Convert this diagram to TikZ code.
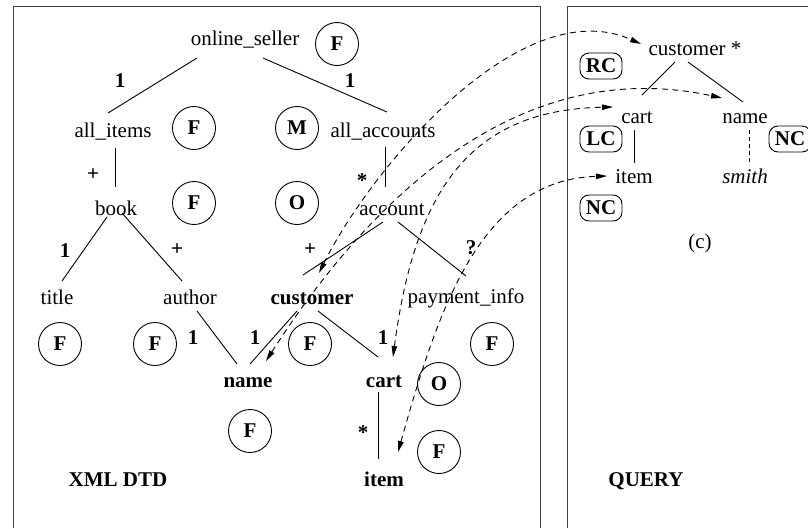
\documentclass[tikz,border=0pt]{standalone}
\usepackage{fontspec}
\setmainfont{Liberation Serif}
\usetikzlibrary{arrows.meta,calc}
\begin{document}
\begin{tikzpicture}[x=1pt,y=-1pt,
  lbl/.style={inner sep=0pt, anchor=base, text height=15pt, text depth=5pt, font=\fontsize{21}{25}\selectfont},
  blbl/.style={lbl, font=\fontsize{21}{25}\selectfont\bfseries},
  card/.style={inner sep=0pt, anchor=base, font=\fontsize{21}{25}\selectfont\bfseries},
  circ/.style={circle, draw, line width=0.9pt, minimum size=43pt, inner sep=0pt, font=\fontsize{21}{25}\selectfont\bfseries},
  rbox/.style={draw, rounded corners=9pt, line width=0.9pt, minimum width=42pt, minimum height=26pt, inner sep=0pt, font=\fontsize{21}{25}\selectfont\bfseries},
  tline/.style={line width=0.9pt},
  link/.style={line width=0.9pt, dash pattern=on 6pt off 4.5pt, {Triangle[length=11pt,width=5.5pt]}-{Triangle[length=11pt,width=5.5pt]}},
  panel/.style={line width=1pt, black!75}
]
\useasboundingbox (0,0) rectangle (808,528);
% panels
\draw[panel] (13,528) -- (13,6) -- (540,6) -- (540,528);
\draw[panel] (567,528) -- (567,6) -- (808,6);

% DTD tree nodes
\node[lbl]  (os) at (245,45)  {online\_seller};
\node[lbl]  (ai) at (113,137) {all\_items};
\node[lbl]  (aa) at (383,137) {all\_accounts};
\node[lbl]  (bk) at (116,215) {book};
\node[lbl]  (ac) at (392,215) {account};
\node[lbl]  (ti) at (57,304)  {title};
\node[lbl]  (au) at (190,304) {author};
\node[blbl] (cu) at (312,304) {customer};
\node[lbl]  (pi) at (466,303) {payment\_info};
\node[blbl] (nm) at (248,387) {name};
\node[blbl] (ct) at (384,387) {cart};
\node[blbl] (it) at (384,486) {item};
\node[blbl] (xd) at (118,486) {XML DTD};
\node[blbl] (qu) at (646,486) {QUERY};

% query nodes
\node[lbl] (cs) at (695,55)  {customer *};
\node[lbl] (qc) at (637,123) {cart};
\node[lbl] (qn) at (745,123) {name};
\node[lbl] (qi) at (634,183) {item};
\node[lbl] (sm) at (745,183) {\itshape smith};
\node[lbl] (cc) at (700,248) {(c)};

% cardinality labels
\node[card] (k1) at (120,87)  {1};
\node[card] (k2) at (350,87)  {1};
\node[card] (k3) at (93,180)  {+};
\node[card] (k4) at (362,187) {*};
\node[card] (k5) at (65,257)  {1};
\node[card] (k6) at (177,255) {+};
\node[card] (k7) at (310,255) {+};
\node[card] (k8) at (471,254) {?};
\node[card] (k9) at (193,344) {1};
\node[card] (k10) at (255,344) {1};
\node[card] (k11) at (383,344) {1};
\node[card] (k12) at (363,439) {*};

% circled marks
\node[circ] (m1) at (337,44)  {F};
\node[circ] (m2) at (194,128) {F};
\node[circ] (m3) at (297,128) {M};
\node[circ] (m4) at (194,203) {F};
\node[circ] (m5) at (297,203) {O};
\node[circ] (m6) at (60,344)  {F};
\node[circ] (m7) at (155,344) {F};
\node[circ] (m8) at (310,344) {F};
\node[circ] (m9) at (492,344) {F};
\node[circ] (m10) at (250,431) {F};
\node[circ] (m11) at (439,384) {O};
\node[circ] (m12) at (439,452) {F};

% rounded marks
\node[rbox] (rc) at (601,66)  {RC};
\node[rbox] (lc) at (601,139) {LC};
\node[rbox] (nc1) at (601,208) {NC};
\node[rbox] (nc2) at (790,139) {NC};

% tree edges
\draw[tline] ([shift={(-48,13)}]os.base) -- ([shift={(-5,-24)}]ai.base);
\draw[tline] ([shift={(18,13)}]os.base) -- ([shift={(4,-25)}]aa.base);
\draw[tline] ([shift={(2,11)}]ai.base) -- ([shift={(-1,-28)}]bk.base);
\draw[tline] ([shift={(2,10)}]aa.base) -- ([shift={(-7,-28)}]ac.base);
\draw[tline] ([shift={(-9,2)}]bk.base) -- ([shift={(5,-23)}]ti.base);
\draw[tline] ([shift={(6,-2)}]bk.base) -- ([shift={(-8,-23)}]au.base);
\draw[tline] ([shift={(-9,7)}]ac.base) -- ([shift={(-9,-29)}]cu.base);
\draw[tline] ([shift={(6,7)}]ac.base) -- ([shift={(0,-27)}]pi.base);
\draw[tline] ([shift={(7,7)}]au.base) -- ([shift={(-11,-23)}]nm.base);
\draw[tline] ([shift={(-15,7)}]cu.base) -- ([shift={(2,-23)}]nm.base);
\draw[tline] ([shift={(6,7)}]cu.base) -- ([shift={(-6,-30)}]ct.base);
\draw[tline] ([shift={(-6,5)}]ct.base) -- ([shift={(-6,-27)}]it.base);
\draw[tline] ([shift={(-20,7)}]cs.base) -- ([shift={(5,-28)}]qc.base);
\draw[tline] ([shift={(-7,7)}]cs.base) -- ([shift={(-2,-21)}]qn.base);
\draw[tline] ([shift={(-3,7)}]qc.base) -- ([shift={(0,-20)}]qi.base);
\draw[tline, dash pattern=on 4pt off 3pt] ([shift={(4,7)}]qn.base) -- ([shift={(4,-18)}]sm.base);

% mapping links
\draw[link] ([shift={(7,-31)}]cu.base) .. controls (370,170) and (520,-10) .. ([shift={(-54,-11)}]cs.base);
\draw[link] ([shift={(18,-26)}]nm.base) .. controls (350,230) and (500,50) .. ([shift={(-23,-25)}]qn.base);
\draw[link] ([shift={(9,-30)}]ct.base) .. controls (415,190) and (470,110) .. ([shift={(-24,-16)}]qc.base);
\draw[link] ([shift={(14,-34)}]it.base) .. controls (438,310) and (480,180) .. ([shift={(-27,-7)}]qi.base);
\end{tikzpicture}
\end{document}
